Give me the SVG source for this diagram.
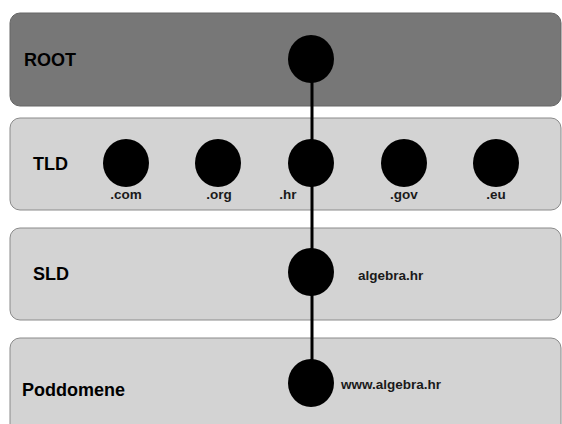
<svg xmlns="http://www.w3.org/2000/svg" width="562" height="424" viewBox="0 0 562 424">
<style>
.band{fill:#d3d3d3;stroke:#8a8a8a;stroke-width:1}
.root{fill:#777;stroke:#666;stroke-width:1}
.dot{fill:#000}
.lbl{font-family:"Liberation Sans",Arial,sans-serif;font-weight:bold;font-size:18px;fill:#000}
.sm{font-family:"Liberation Sans",Arial,sans-serif;font-weight:bold;font-size:13.5px;fill:#1a1a1a}
.edge{stroke:#000;stroke-width:3;fill:none}
</style>
<rect width="562" height="424" fill="#fff"/>
<g id="band-root"><rect class="root" x="10" y="13" width="551" height="93" rx="10"/><text class="lbl" x="24" y="66">ROOT</text></g>
<g id="band-tld"><rect class="band" x="10" y="118" width="551" height="92" rx="10"/><text class="lbl" x="33" y="170">TLD</text></g>
<g id="band-sld"><rect class="band" x="10" y="228" width="551" height="92" rx="10"/><text class="lbl" x="33" y="280">SLD</text></g>
<g id="band-sub"><rect class="band" x="10" y="338" width="551" height="100" rx="10"/><text class="lbl" x="22" y="396">Poddomene</text></g>
<g id="connectors">
<line class="edge" x1="312" y1="60" x2="312" y2="383"/>
</g>
<g id="node-root"><ellipse class="dot" cx="311" cy="59" rx="23" ry="24"/></g>
<g id="node-com"><ellipse class="dot" cx="126" cy="163" rx="23" ry="24"/><text class="sm" x="126" y="199" text-anchor="middle">.com</text></g>
<g id="node-org"><ellipse class="dot" cx="218" cy="163" rx="23" ry="24"/><text class="sm" x="219" y="199" text-anchor="middle">.org</text></g>
<g id="node-hr"><ellipse class="dot" cx="311" cy="163" rx="23" ry="24"/><text class="sm" x="288" y="199" text-anchor="middle">.hr</text></g>
<g id="node-gov"><ellipse class="dot" cx="404" cy="163" rx="23" ry="24"/><text class="sm" x="404" y="199" text-anchor="middle">.gov</text></g>
<g id="node-eu"><ellipse class="dot" cx="496" cy="163" rx="23" ry="24"/><text class="sm" x="496" y="199" text-anchor="middle">.eu</text></g>
<g id="node-sld"><ellipse class="dot" cx="311" cy="272" rx="23" ry="24"/><text class="sm" x="358" y="280">algebra.hr</text></g>
<g id="node-sub"><ellipse class="dot" cx="311" cy="383" rx="23" ry="24"/><text class="sm" x="341" y="389">www.algebra.hr</text></g>
</svg>
